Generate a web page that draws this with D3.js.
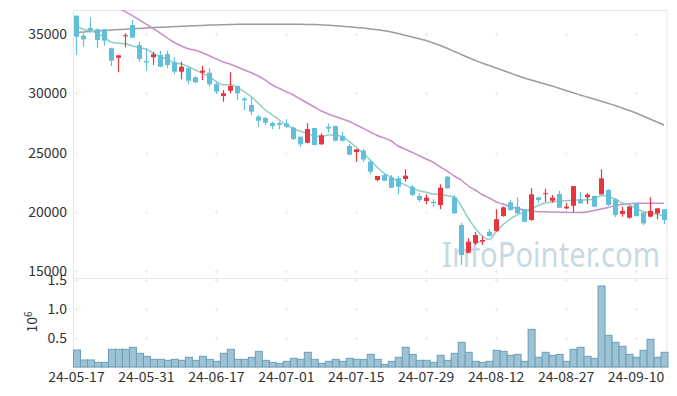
<!DOCTYPE html>
<html>
<head>
<meta charset="utf-8">
<script src="https://cdn.jsdelivr.net/npm/d3@7"></script>
<style>
	body { margin: 0; background: #fff; }
	text { font-family: "Noto Sans CJK KR", "Noto Sans", sans-serif; }
</style>
</head>
<body>
<div id="chart-area"></div>
<script>

// trading days (yy-mm-dd)
const dates = [
	"24-05-17","24-05-20","24-05-21","24-05-22","24-05-23","24-05-24","24-05-27","24-05-28","24-05-29","24-05-30",
	"24-05-31","24-06-03","24-06-04","24-06-05","24-06-07","24-06-10","24-06-11","24-06-12","24-06-13","24-06-14",
	"24-06-17","24-06-18","24-06-19","24-06-20","24-06-21","24-06-24","24-06-25","24-06-26","24-06-27","24-06-28",
	"24-07-01","24-07-02","24-07-03","24-07-04","24-07-05","24-07-08","24-07-09","24-07-10","24-07-11","24-07-12",
	"24-07-15","24-07-16","24-07-17","24-07-18","24-07-19","24-07-22","24-07-23","24-07-24","24-07-25","24-07-26",
	"24-07-29","24-07-30","24-07-31","24-08-01","24-08-02","24-08-05","24-08-06","24-08-07","24-08-08","24-08-09",
	"24-08-12","24-08-13","24-08-14","24-08-16","24-08-19","24-08-20","24-08-21","24-08-22","24-08-23","24-08-26",
	"24-08-27","24-08-28","24-08-29","24-08-30","24-09-02","24-09-03","24-09-04","24-09-05","24-09-06","24-09-09",
	"24-09-10","24-09-11","24-09-12","24-09-13","24-09-19"
];

const opens = [
	36550,34860,35510,35400,35400,33800,33000,34810,35760,34070,
	32720,33040,33230,33310,32610,31820,32110,31350,31740,31740,
	30780,29770,30220,30620,29550,29010,28030,27920,27500,27500,
	27470,27100,26340,25830,27070,25700,27180,27240,26400,25560,
	25050,25160,24230,22690,23110,22920,22830,22770,22120,21340,
	20920,20860,20580,22970,21230,18900,16560,17350,17500,18330,
	18390,19650,20810,20440,20220,19320,21230,21500,20940,21510,
	20300,20520,21060,21230,21340,21480,21850,21060,19820,19510,
	20730,19940,19600,19880,20220
];
const highs = [
	36550,35060,36410,35480,35400,33850,33200,35060,36180,34350,
	33790,33510,33590,33590,33040,32670,32240,31460,32330,32110,
	30980,30280,31770,30650,29660,29660,28170,28030,27610,27620,
	27810,27180,26340,27470,27100,26630,27470,27270,26760,25730,
	25280,25330,24320,23030,23190,23110,23030,23590,22270,21570,
	21480,21060,22330,23000,21400,19090,17770,18330,17970,18560,
	20220,20450,21000,21230,20250,21990,21280,21960,21430,21780,
	20780,22180,21700,21570,21360,23590,21900,21120,20440,20470,
	20780,19970,21230,20300,20250
];
const lows = [
	33230,33930,35060,33820,34000,32300,31770,33880,34660,32670,
	31910,32390,32200,32110,31630,31180,30760,30840,31120,30560,
	29940,29290,30000,29440,28590,28170,27180,27330,26960,27000,
	27100,26060,25500,25780,25600,25640,26680,25950,25920,24770,
	24230,24230,23170,22580,22580,21990,21480,22550,21340,20860,
	20640,20440,20220,21950,19850,15520,16500,17210,17210,17900,
	18330,19600,20100,19800,19120,19260,20780,20860,20780,20300,
	20220,19970,20670,20670,20400,21450,20500,19570,19600,19430,
	19600,18900,19540,19380,18960
];
const closes = [
	34770,34550,35340,34490,34440,32750,33200,34890,34690,32890,
	32610,33290,32240,32390,31820,32240,31060,30930,31910,30760,
	30140,30000,30620,30000,29410,28450,27690,27520,27240,27350,
	27180,26150,25700,26990,25640,26460,27020,26000,26000,24820,
	25280,24430,23390,23030,22630,22040,22120,23050,21430,21000,
	21200,20730,22040,21990,19880,16370,17490,18050,17630,17970,
	19380,20390,20160,19880,19170,21480,21000,21570,21200,20350,
	20440,22180,20730,21460,20440,22830,20580,19740,20080,20440,
	19650,19040,20080,20300,19320
];

// volume, millions of shares
const volumes = [
	0.293,0.121,0.121,0.080,0.080,0.305,0.305,0.305,0.339,0.236,
	0.184,0.132,0.132,0.115,0.132,0.115,0.167,0.115,0.184,0.132,
	0.098,0.236,0.305,0.132,0.132,0.167,0.270,0.115,0.080,0.063,
	0.098,0.149,0.132,0.253,0.132,0.063,0.098,0.132,0.098,0.149,
	0.132,0.132,0.218,0.132,0.046,0.098,0.167,0.339,0.218,0.115,
	0.115,0.080,0.201,0.115,0.236,0.425,0.253,0.098,0.080,0.098,
	0.287,0.270,0.201,0.218,0.098,0.649,0.167,0.253,0.201,0.218,
	0.098,0.305,0.339,0.184,0.149,1.397,0.546,0.425,0.356,0.218,
	0.167,0.287,0.477,0.167,0.253
];

// moving averages
const ma5 = [
	35675,35396,35278,35059,34722,34300,34216,34182,33988,33845,
	33710,33373,33086,32867,32580,32470,32243,31965,31686,31400,
	30978,30700,30742,30506,30135,29713,29157,28592,28170,27749,
	27327,27032,26796,26610,26417,26341,26484,26484,26341,25919,
	25447,24941,24376,23760,23254,22917,22546,22268,21989,21787,
	21652,21509,21467,21366,21256,20497,19485,18642,17968,17673,
	18330,18937,19401,19738,19991,20286,20539,20750,20834,20902,
	20944,20978,21003,21020,21088,21383,21298,21088,20750,20581,
	20328,20033,19907,19822,19654
];
const ma20 = [
	38626,38373,38120,37867,37614,37378,37150,36880,36543,36181,
	35818,35447,35059,34663,34267,33988,33760,33626,33424,33170,
	32892,32640,32445,32218,31965,31737,31459,31121,30700,30405,
	30135,29857,29519,29182,28845,28508,28255,28044,27833,27622,
	27327,27049,26737,26442,26231,25978,25556,25278,25025,24738,
	24460,24182,23786,23448,23027,22690,22184,21846,21467,21172,
	20860,20666,20438,20286,20160,20075,20016,20016,19991,19974,
	19966,19949,19949,19991,20117,20244,20370,20539,20623,20691,
	20725,20725,20725,20725,20725
];
const ma120 = [
	35110,35169,35228,35261,35295,35337,35371,35405,35438,35472,
	35506,35540,35565,35590,35624,35650,35675,35700,35725,35751,
	35767,35784,35801,35818,35818,35818,35818,35818,35818,35818,
	35818,35818,35818,35809,35793,35767,35734,35692,35649,35607,
	35557,35498,35430,35363,35278,35169,35034,34890,34748,34596,
	34452,34241,34030,33794,33525,33272,33018,32783,32555,32344,
	32133,31922,31712,31501,31307,31121,30953,30784,30615,30421,
	30236,30050,29857,29688,29519,29334,29157,28971,28760,28550,
	28339,28086,27833,27580,27327
];

const xTickLabels = ["24-05-17","24-05-31","24-06-17","24-07-01","24-07-15","24-07-29","24-08-12","24-08-27","24-09-10"];
const priceTicks = [15000, 20000, 25000, 30000, 35000];
const volumeTicks = [0.5, 1.0, 1.5];

// SVG size
let width = 677,
	height = 396;
const left = 73, right = 667.5;
const priceTop = 10, priceBottom = 278, volBottom = 367;

const upColor = "#e9353d",
	downColor = "#63bfd9";

let data = dates.map((d, i) => ({
	date: d, open: opens[i], high: highs[i], low: lows[i], close: closes[i],
	volume: volumes[i], ma5: ma5[i], ma20: ma20[i], ma120: ma120[i]
}));

let svg = d3.select("#chart-area")
	.append("svg")
	.attr("width", width)
	.attr("height", height);

// scales
const x = d3.scaleBand()
	.domain(dates)
	.range([left, right])
	.padding(0);
const bw = x.bandwidth();
const cx = d => x(d) + bw / 2;

const y = d3.scaleLinear()
	.domain([14427, 37024])
	.range([priceBottom, priceTop]);

const yVol = d3.scaleLinear()
	.domain([0, 1.534])
	.range([volBottom, priceBottom]);

svg.append("clipPath")
	.attr("id", "price-clip")
	.append("rect")
	.attr("x", left).attr("y", priceTop)
	.attr("width", right - left).attr("height", priceBottom - priceTop);

// frame lines
const frame = svg.append("g").attr("stroke", "#e6e6e6").attr("stroke-width", 1);
frame.append("line").attr("x1", left).attr("x2", right).attr("y1", priceTop + 0.5).attr("y2", priceTop + 0.5);
frame.append("line").attr("x1", left).attr("x2", right).attr("y1", priceBottom + 0.5).attr("y2", priceBottom + 0.5);
frame.append("line").attr("x1", left).attr("x2", right).attr("y1", volBottom + 0.5).attr("y2", volBottom + 0.5);
frame.append("line").attr("x1", left + 0.5).attr("x2", left + 0.5).attr("y1", priceTop).attr("y2", volBottom);
frame.append("line").attr("x1", right - 0.5).attr("x2", right - 0.5).attr("y1", priceTop).attr("y2", volBottom);

// small "+" grid marks
const crossPoints = [];
xTickLabels.forEach(d => {
	priceTicks.forEach(v => crossPoints.push([cx(d), y(v)]));
	volumeTicks.forEach(v => crossPoints.push([cx(d), yVol(v)]));
});
svg.append("g")
	.selectAll("path")
	.data(crossPoints)
	.enter()
	.append("path")
	.attr("transform", p => "translate(" + Math.round(p[0]) + "," + Math.round(p[1]) + ")")
	.attr("d", "M-1.5,0.5H2.5M0.5,-1.5V2.5")
	.attr("stroke", "#ececec")
	.attr("stroke-width", 1);

// watermark
svg.append("text")
	.attr("x", 442)
	.attr("y", 267)
	.attr("textLength", 218)
	.attr("lengthAdjust", "spacingAndGlyphs")
	.style("font-family", "'Noto Sans', sans-serif")
	.style("font-size", "34px")
	.style("fill", "#c7d9e3")
	.text("InfoPointer.com");

// moving average lines
const priceArea = svg.append("g").attr("clip-path", "url(#price-clip)");

const lineOf = key => d3.line()
	.x(d => cx(d.date))
	.y(d => y(d[key]))
	.curve(d3.curveMonotoneX);

[["ma120", "#9c9c9c"], ["ma20", "#c98ec5"], ["ma5", "#8ed0c3"]].forEach(([key, color]) => {
	priceArea.append("path")
		.datum(data)
		.attr("d", lineOf(key))
		.attr("fill", "none")
		.attr("stroke", color)
		.attr("stroke-width", 1.5);
});

// candles
const candles = priceArea.selectAll(".candle")
	.data(data)
	.enter()
	.append("g")
	.attr("class", "candle");

candles.append("line")
	.attr("x1", d => Math.round(cx(d.date)) + 0.5)
	.attr("x2", d => Math.round(cx(d.date)) + 0.5)
	.attr("y1", d => y(d.high))
	.attr("y2", d => y(d.low))
	.attr("stroke", d => d.close >= d.open ? upColor : downColor)
	.attr("stroke-width", 1.2);

candles.append("rect")
	.attr("x", d => Math.round(cx(d.date)) - 2)
	.attr("width", 5)
	.attr("y", d => y(Math.max(d.open, d.close)))
	.attr("height", d => Math.max(1, Math.abs(y(d.open) - y(d.close))))
	.attr("fill", d => d.close >= d.open ? upColor : downColor);

// volume bars
svg.append("g")
	.selectAll("rect")
	.data(data)
	.enter()
	.append("rect")
	.attr("x", d => x(d.date) + 0.5)
	.attr("width", bw)
	.attr("y", d => yVol(d.volume))
	.attr("height", d => yVol(0) - yVol(d.volume))
	.attr("fill", "#9cc2d3")
	.attr("stroke", "#6c9fb7")
	.attr("stroke-width", 1);

// axes
const yAxis = d3.axisLeft(y).tickValues(priceTicks).tickSize(0).tickPadding(6).tickFormat(d3.format("d"));
const volAxis = d3.axisLeft(yVol).tickValues(volumeTicks).tickSize(0).tickPadding(6).tickFormat(d3.format(".1f"));
const xAxis = d3.axisBottom(x).tickValues(xTickLabels).tickSize(0).tickPadding(5);

[
	svg.append("g").attr("transform", "translate(" + left + ",0)").call(yAxis),
	svg.append("g").attr("transform", "translate(" + left + ",0)").call(volAxis),
	svg.append("g").attr("transform", "translate(0," + volBottom + ")").call(xAxis)
].forEach(g => {
	g.select(".domain").remove();
	g.selectAll("text")
		.style("font-family", "'Noto Sans CJK KR', sans-serif")
		.style("font-size", "14px")
		.style("fill", "#333");
});

// volume unit label
const unit = svg.append("text")
	.attr("transform", "translate(37,322) rotate(-90)")
	.attr("text-anchor", "middle")
	.style("font-size", "14px")
	.style("fill", "#333");
unit.append("tspan").text("10");
unit.append("tspan").attr("dy", "-0.5em").style("font-size", "10px").text("6");

</script>
</body>
</html>
